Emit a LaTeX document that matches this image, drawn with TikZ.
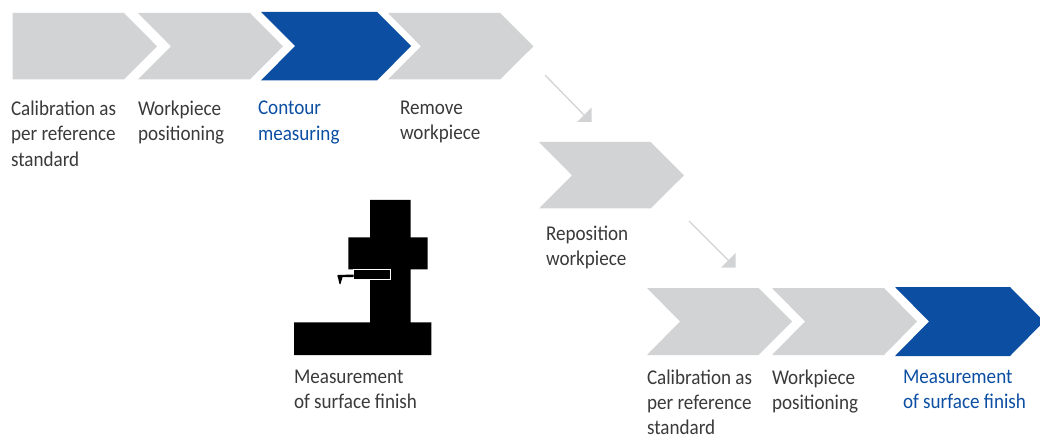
\documentclass[tikz,border=0pt]{standalone}
\usepackage{fontspec}
\setmainfont[FakeStretch=0.91]{Carlito}
\definecolor{stepgray}{HTML}{D1D3D4}
\definecolor{stepblue}{HTML}{0B4EA2}
\definecolor{labelink}{HTML}{3A3A3A}
\tikzset{
  px/.style={x=1pt,y=-1pt},
  graystep/.style={fill=stepgray},
  bluestep/.style={fill=stepblue},
  lbl/.style={anchor=north west,inner sep=0pt,outer sep=0pt,align=left,text=labelink,font=\fontsize{21}{25.4}\selectfont,execute at begin node={\rule{0pt}{16pt}}},
  lbltight/.style={lbl,font=\fontsize{21}{24.8}\selectfont},
  lblblue/.style={lbl,text=stepblue},
  flowline/.style={draw=stepgray,line width=1.3pt},
  flowhead/.style={fill=stepgray},
}
\begin{document}
\begin{tikzpicture}[px]
\useasboundingbox (0,0) rectangle (1040,438);
% top row
\fill[graystep] (12.5,13) -- (124,13) -- (157,46.3) -- (124,79.5) -- (12.5,79.5) -- cycle;
\fill[graystep] (138,13) -- (250,13) -- (283,46.3) -- (250,79.5) -- (138,79.5) -- (171,46.3) -- cycle;
\fill[bluestep] (261,12) -- (377,12) -- (411,46) -- (377,80.5) -- (261,80.5) -- (295,46) -- cycle;
\fill[graystep] (388,13) -- (500,13) -- (533.5,46.3) -- (500,79.5) -- (388,79.5) -- (421,46.3) -- cycle;
% reposition
\fill[graystep] (539,142) -- (650.5,142) -- (684,175.3) -- (650.5,208.5) -- (539,208.5) -- (572,175.3) -- cycle;
% bottom row
\fill[graystep] (647,288) -- (758.5,288) -- (792,321.5) -- (758.5,355) -- (647,355) -- (680,321.5) -- cycle;
\fill[graystep] (772,288) -- (884,288) -- (917,321.5) -- (884,355) -- (772,355) -- (805,321.5) -- cycle;
\fill[bluestep] (895,287) -- (1010,287) -- (1044,321.5) -- (1010,356) -- (895,356) -- (929,321.5) -- cycle;
% connectors
\coordinate (a1) at (545,75);
\coordinate (a2) at (585,116);
\coordinate (b1) at (689,221);
\coordinate (b2) at (729,261);
\draw[flowline] (a1) -- (a2);
\draw[flowline] (b1) -- (b2);
\fill[flowhead] (591.5,122) -- (577,122) -- (591.5,107.5) -- cycle;
\fill[flowhead] (735.5,267.5) -- (721,267.5) -- (735.5,253) -- cycle;
% machine
\fill[black] (370,200) -- (410.7,200) -- (410.7,237.3) -- (427.7,237.3) -- (427.7,269.3) -- (410.7,269.3) -- (410.7,322.3) -- (431.3,322.3) -- (431.3,355) -- (294,355) -- (294,322.3) -- (370,322.3) -- (370,269.3) -- (348.3,269.3) -- (348.3,237.3) -- (370,237.3) -- cycle;
\fill[black,draw=white,line width=0.8pt] (353.5,269.3) rectangle (390.7,279);
\fill[black] (353.5,274.5) -- (337.5,275) -- (337.5,277) -- (353.5,277) -- cycle;
\fill[black] (337.5,275.5) -- (343,275.5) -- (340.5,284) -- (339.5,284) -- cycle;
% labels
\node[lbl] (t1) at (11,101) {Calibration as\\per reference\\standard};
\node[lbl] (t2) at (138,101) {Workpiece\\positioning};
\node[lblblue] (t3) at (258,101) {Contour\\measuring};
\node[lbl] (t4) at (400,101) {Remove\\workpiece};
\node[lbl] (t5) at (546,226) {Reposition\\workpiece};
\node[lbl] (t6) at (294,370) {Measurement\\of surface finish};
\node[lbltight] (t7) at (647,370) {Calibration as\\per reference\\standard};
\node[lbl] (t8) at (772,370) {Workpiece\\positioning};
\node[lblblue] (t9) at (903,370) {Measurement\\of surface finish};
\end{tikzpicture}
\end{document}
